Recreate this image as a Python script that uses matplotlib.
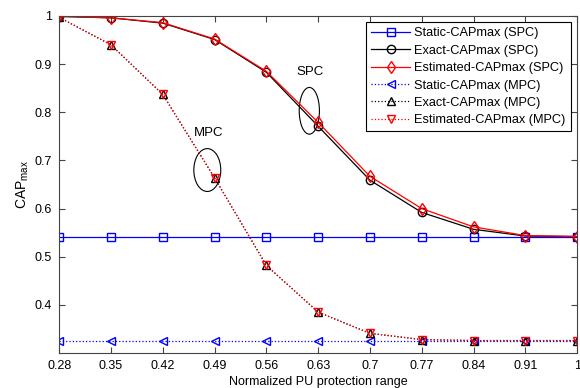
import numpy as np
import matplotlib
matplotlib.use('Agg')
import matplotlib.pyplot as plt
from matplotlib.patches import Ellipse

plt.rcParams['font.family'] = ['Liberation Sans', 'DejaVu Sans']

# x axis is categorical: 11 equally spaced ticks
xLabels = ['0.28', '0.35', '0.42', '0.49', '0.56', '0.63', '0.7', '0.77', '0.84', '0.91', '1']

staticSPC = [0.542, 0.542, 0.542, 0.542, 0.542, 0.542, 0.542, 0.542, 0.542, 0.542, 0.542]
exactSPC = [0.999, 0.996, 0.985, 0.951, 0.883, 0.771, 0.659, 0.592, 0.557, 0.543, 0.542]
estSPC = [0.999, 0.996, 0.986, 0.952, 0.885, 0.779, 0.667, 0.600, 0.562, 0.544, 0.542]

staticMPC = [0.326, 0.326, 0.326, 0.326, 0.326, 0.326, 0.326, 0.326, 0.326, 0.326, 0.326]
exactMPC = [0.997, 0.940, 0.837, 0.664, 0.482, 0.385, 0.341, 0.328, 0.326, 0.326, 0.326]
estMPC = [0.997, 0.940, 0.837, 0.664, 0.482, 0.385, 0.341, 0.328, 0.326, 0.326, 0.326]

x = np.arange(len(xLabels))

fig = plt.figure(figsize=(5.8, 3.88), dpi=100)
ax = fig.add_axes([0.102, 0.090, 0.893, 0.869])

ms = 6
ax.plot(x, staticSPC, '-', color='#0000ff', marker='s', mfc='none', ms=ms, lw=0.9,
        label='Static-CAPmax (SPC)')
ax.plot(x, exactSPC, '-', color='black', marker='o', mfc='none', ms=ms, lw=0.9,
        label='Exact-CAPmax (SPC)')
ax.plot(x, estSPC, '-', color='#ff0000', marker='d', mfc='none', ms=ms, lw=0.9,
        label='Estimated-CAPmax (SPC)')
ax.plot(x, staticMPC, ':', color='#0000ff', marker='<', mfc='none', ms=ms, lw=0.9,
        label='Static-CAPmax (MPC)')
ax.plot(x, exactMPC, ':', color='black', marker='^', mfc='none', ms=ms, lw=0.9,
        label='Exact-CAPmax (MPC)')
ax.plot(x, estMPC, ':', color='#ff0000', marker='v', mfc='none', ms=ms, lw=0.9,
        label='Estimated-CAPmax (MPC)')

# annotations
ax.add_patch(Ellipse((4.83, 0.803), 0.39, 0.097, fill=False, ec='black', lw=0.8))
ax.text(4.85, 0.884, 'SPC', ha='center', va='center', fontsize=9.5)
ax.add_patch(Ellipse((2.86, 0.68), 0.52, 0.089, fill=False, ec='black', lw=0.8))
ax.text(2.88, 0.757, 'MPC', ha='center', va='center', fontsize=9.5)

ax.set_xlim(0, 10)
ax.set_ylim(0.3, 1.0)
ax.set_xticks(x)
ax.set_xticklabels(xLabels)
ax.set_yticks([0.4, 0.5, 0.6, 0.7, 0.8, 0.9, 1.0])
ax.set_yticklabels(['0.4', '0.5', '0.6', '0.7', '0.8', '0.9', '1'])
ax.tick_params(direction='in', top=True, right=True, labelsize=9, length=4,
               color='#444444', pad=5)
for s in ax.spines.values():
    s.set_color('#444444')

ax.set_xlabel('Normalized PU protection range', fontsize=9, labelpad=3)
ax.set_ylabel('CAP$_{\\mathregular{max}}$', fontsize=10, labelpad=3)

leg = ax.legend(loc='upper right', fontsize=9.2, fancybox=False, framealpha=1,
                edgecolor='black', handlelength=3.1, borderaxespad=0.5,
                labelspacing=0.42, borderpad=0.4, handletextpad=0.3)
leg.get_frame().set_linewidth(0.8)

fig.savefig('out.png', dpi=100)
